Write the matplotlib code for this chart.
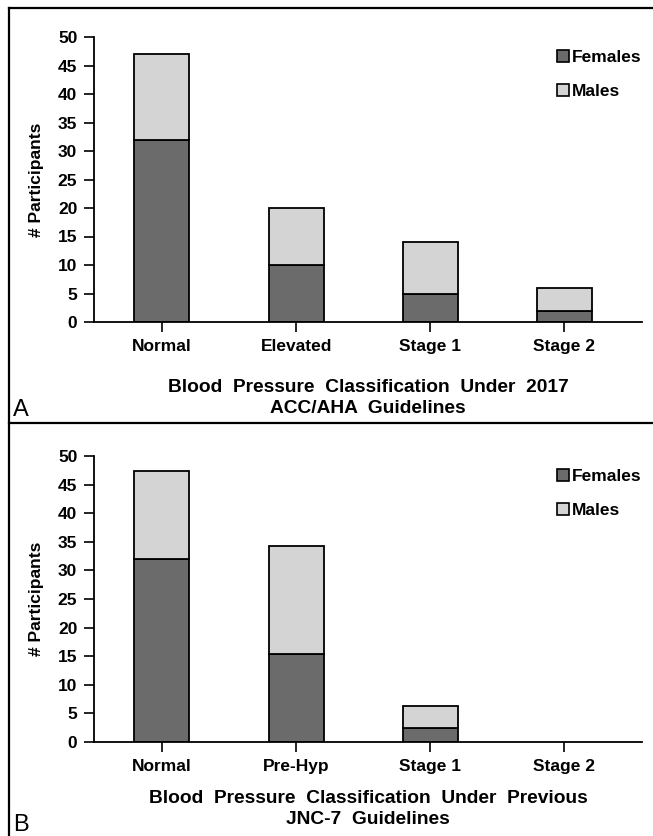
import matplotlib.pyplot as plt
from matplotlib.patches import Patch
from matplotlib.lines import Line2D

plt.rcParams['font.family'] = ['Liberation Sans', 'DejaVu Sans']

# Panel A: 2017 ACC/AHA
cats_a = ['Normal', 'Elevated', 'Stage 1', 'Stage 2']
females_a = [32, 10, 5, 2]
males_a = [15, 10, 9, 4]

# Panel B: JNC-7
cats_b = ['Normal', 'Pre-Hyp', 'Stage 1', 'Stage 2']
females_b = [32, 15.3, 2.5, 0]
males_b = [15.3, 19, 3.8, 0]

yticks = [0, 5, 10, 15, 20, 25, 30, 35, 40, 45, 50]

fem_col = '#6b6b6b'
male_col = '#d4d4d4'

W, H = 653, 836
fig = plt.figure(figsize=(W / 100, H / 100), dpi=100)


def panel(rect, cats, fem, mal, xlabel, letter, letter_y, xpad):
    ax = fig.add_axes(rect)
    x = range(len(cats))
    for xi, f, m in zip(x, fem, mal):
        if f + m == 0:
            continue
        ax.bar(xi, f, width=0.41, color=fem_col, edgecolor='black', linewidth=1.3, zorder=2)
        ax.bar(xi, m, width=0.41, bottom=f, color=male_col, edgecolor='black', linewidth=1.3, zorder=2)
    ax.set_xlim(-0.507, 3.58)
    ax.set_ylim(0, 50)
    ax.set_yticks(yticks)
    ax.set_xticks(list(x))
    ax.set_xticklabels(cats, fontsize=12.5, fontweight='bold')
    ax.set_yticklabels([str(v) for v in yticks], fontsize=12.5, fontweight='bold')
    ax.spines['top'].set_visible(False)
    ax.spines['right'].set_visible(False)
    ax.spines['left'].set_linewidth(1.3)
    ax.spines['bottom'].set_linewidth(1.3)
    ax.tick_params(axis='both', direction='out', length=7, width=1.2, pad=5)
    ax.set_ylabel('# Participants', fontsize=12.5, fontweight='bold', labelpad=10)
    ax.set_xlabel(xlabel, fontsize=13.8, fontweight='bold', labelpad=xpad, linespacing=1.3)
    handles = [Patch(facecolor=fem_col, edgecolor='black', linewidth=1.2),
               Patch(facecolor=male_col, edgecolor='black', linewidth=1.2)]
    ax.legend(handles, ['Females', 'Males'], loc='upper left',
              bbox_to_anchor=(0.845, 0.955), frameon=False,
              handlelength=0.7, handleheight=0.7, handletextpad=0.15,
              labelspacing=1.1, borderaxespad=0, borderpad=0,
              prop={'weight': 'bold', 'size': 12.5})
    fig.text(13 / W, 1 - letter_y / H, letter, fontsize=17, ha='left', va='baseline')
    return ax


panel([94 / W, 1 - 322 / H, 548 / W, 285 / H], cats_a, females_a, males_a,
      'Blood  Pressure  Classification  Under  2017\nACC/AHA  Guidelines', 'A', 416, 18)
panel([94 / W, 1 - 742 / H, 548 / W, 286 / H], cats_b, females_b, males_b,
      'Blood  Pressure  Classification  Under  Previous\nJNC-7  Guidelines', 'B', 831, 12)

# panel borders
for line in [([9 / W, 1], [1 - 8 / H, 1 - 8 / H]),
             ([9 / W, 1], [1 - 423 / H, 1 - 423 / H]),
             ([9 / W, 9 / W], [1 - 8 / H, 0])]:
    fig.add_artist(Line2D(line[0], line[1], color='black', linewidth=1.6))

fig.savefig('out.png', dpi=100, facecolor='white')
